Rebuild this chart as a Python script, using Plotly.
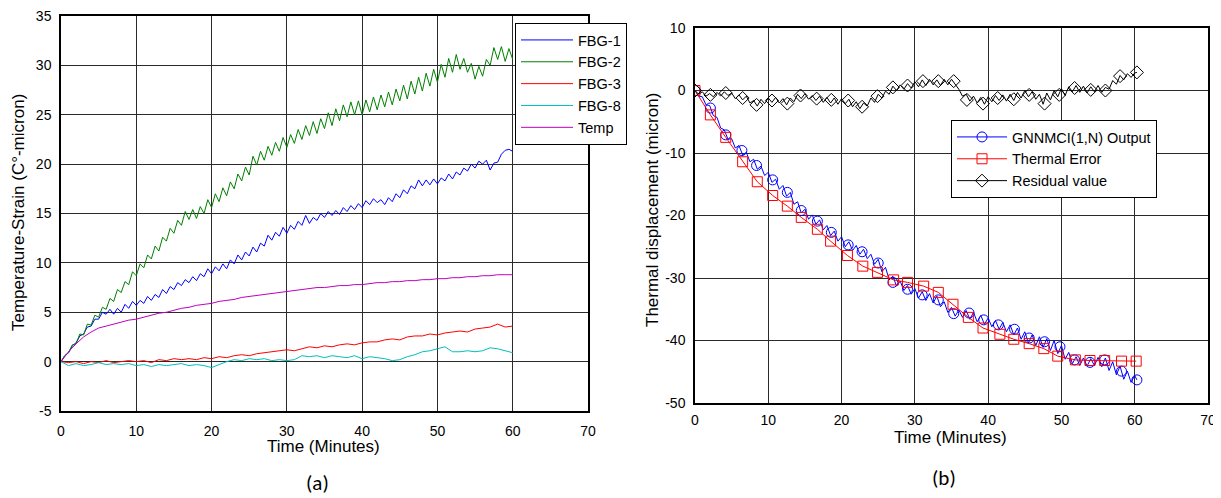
import plotly.graph_objects as go

# ---------------- Data: panel (a) ----------------
# FBG-1 and FBG-2 sampled every 0.5 min from 0 to 60 min
fbg1 = [0, 0.6, 0.9, 1.6, 1.9, 2.6, 2.8, 3.5, 3.6, 4.3,
        4.3, 5.0, 4.8, 5.3, 4.8, 5.4, 5.0, 5.8, 5.4, 6.1,
        5.7, 6.2, 5.9, 6.6, 6.2, 6.8, 6.5, 7.3, 6.9, 7.6,
        7.3, 8.0, 7.7, 8.3, 8.0, 8.6, 8.2, 8.9, 8.6, 9.4,
        8.9, 9.6, 9.2, 9.9, 9.4, 10.3, 9.9, 10.8, 10.3, 11.1,
        10.7, 11.6, 11.1, 12.0, 11.7, 12.8, 12.3, 13.1, 12.7, 13.6,
        13.0, 13.8, 13.4, 14.2, 13.8, 14.8, 14.0, 14.6, 14.3, 15.0,
        14.6, 15.2, 14.8, 15.3, 14.9, 15.6, 15.2, 15.8, 15.4, 16.0,
        15.6, 16.3, 15.9, 16.5, 16.1, 16.4, 15.9, 16.6, 16.2, 17.0,
        16.6, 17.4, 17.0, 17.8, 17.5, 18.4, 17.8, 18.4, 17.9, 18.5,
        18.0, 18.6, 18.3, 19.0, 18.5, 19.2, 18.9, 19.6, 19.3, 20.0,
        19.6, 20.3, 20.0, 20.4, 19.4, 20.1, 20.2, 21.0, 21.4, 21.5,
        21.3]
fbg2 = [0, 0.6, 0.9, 1.7, 1.8, 2.8, 2.7, 3.8, 3.7, 4.7,
        4.5, 5.5, 5.3, 6.4, 6.1, 7.3, 7.0, 8.1, 7.8, 9.1,
        8.7, 9.9, 9.5, 10.8, 10.4, 11.7, 11.2, 12.6, 12.2, 13.5,
        13.0, 14.3, 13.8, 15.2, 14.4, 15.4, 14.5, 15.7, 15.0, 16.4,
        15.6, 17.0, 16.2, 17.6, 16.8, 18.2, 17.5, 19.0, 18.3, 19.7,
        18.9, 20.8, 19.9, 21.3, 20.4, 21.8, 20.9, 22.2, 21.3, 22.7,
        21.7, 23.0, 22.1, 23.5, 22.5, 23.9, 22.9, 24.3, 23.1, 24.6,
        23.6, 25.2, 23.9, 25.6, 24.4, 26.0, 24.8, 26.3, 25.0, 26.4,
        25.0, 26.5, 25.3, 26.8, 25.5, 27.0, 25.8, 27.3, 26.0, 27.6,
        26.4, 28.0, 26.6, 28.4, 27.1, 28.8, 27.4, 29.2, 27.9, 29.6,
        28.3, 30.1, 28.8, 30.7, 29.3, 31.1, 29.6, 30.7, 29.3, 30.2,
        28.6, 29.9, 28.9, 30.6, 30.0, 31.8, 30.6, 31.9, 30.4, 31.7,
        30.6]
t_half = [i * 0.5 for i in range(len(fbg2))]

# FBG-3, FBG-8 and Temp sampled every minute from 0 to 60 min
fbg3 = [0, -0.1, 0.0, -0.2, 0.0, -0.1, 0.1, -0.1, 0.0, 0.1,
        0.0, 0.1, -0.1, 0.2, 0.1, 0.3, 0.2, 0.3, 0.2, 0.4,
        0.3, 0.5, 0.4, 0.6, 0.7, 0.6, 0.8, 0.9, 1.0, 1.1,
        1.2, 1.1, 1.3, 1.5, 1.4, 1.6, 1.5, 1.7, 1.8, 1.7,
        1.9, 2.0, 2.0, 2.2, 2.3, 2.2, 2.5, 2.6, 2.6, 2.8,
        2.7, 2.9, 3.0, 3.1, 3.0, 3.3, 3.4, 3.5, 3.8, 3.5,
        3.6]
fbg8 = [0, -0.4, -0.2, -0.4, -0.3, -0.1, -0.3, -0.2, -0.3, -0.2,
        -0.4, -0.3, -0.5, -0.3, -0.4, -0.3, -0.2, -0.4, -0.3, -0.4,
        -0.6, -0.3, 0.0, 0.2, 0.1, 0.3, 0.2, 0.3, 0.1, 0.2,
        0.1, 0.2, 0.6, 0.5, 0.6, 0.4, 0.6, 0.5, 0.4, 0.6,
        0.3, 0.5, 0.4, 0.3, 0.1, 0.2, 0.5, 0.7, 1.0, 1.1,
        1.3, 1.5, 1.0, 1.0, 1.1, 1.0, 1.1, 1.4, 1.3, 1.1,
        0.9]
temp = [0, 1.0, 1.8, 2.5, 3.0, 3.4, 3.6, 3.8, 4.0, 4.2,
        4.3, 4.5, 4.7, 4.9, 5.0, 5.2, 5.4, 5.5, 5.7, 5.8,
        5.9, 6.1, 6.2, 6.3, 6.5, 6.6, 6.7, 6.8, 6.9, 7.0,
        7.1, 7.2, 7.3, 7.4, 7.5, 7.5, 7.6, 7.7, 7.7, 7.8,
        7.8, 7.9, 8.0, 8.0, 8.1, 8.1, 8.2, 8.2, 8.3, 8.3,
        8.4, 8.4, 8.5, 8.5, 8.6, 8.6, 8.7, 8.7, 8.8, 8.8,
        8.8]
t_min = list(range(len(temp)))

# ---------------- Data: panel (b) ----------------
t_dense = [i * 0.5 for i in range(121)] + [60.3]
gnn_dense = [0, -0.9, -1.0, -2.3, -2.4, -4.0, -4.3, -6.0, -6.3, -7.8,
             -7.7, -9.2, -8.8, -10.3, -9.9, -11.4, -11.0, -12.6, -12.1, -13.6,
             -13.1, -14.7, -14.2, -15.8, -15.2, -16.9, -16.3, -18.2, -17.8, -19.6,
             -19.0, -20.6, -19.9, -21.4, -20.7, -22.3, -21.6, -23.2, -22.5, -24.1,
             -23.4, -25.0, -24.2, -25.6, -24.8, -26.2, -25.4, -26.9, -26.2, -27.8,
             -27.0, -29.0, -28.3, -30.3, -29.7, -31.3, -30.5, -32.0, -31.2, -32.6,
             -31.7, -33.2, -32.2, -33.6, -32.5, -34.0, -32.9, -34.6, -33.8, -35.5,
             -34.7, -36.1, -35.1, -36.3, -35.2, -36.6, -35.5, -37.0, -36.0, -37.4,
             -36.4, -37.8, -36.8, -38.2, -37.1, -38.6, -37.5, -39.1, -38.0, -39.8,
             -38.6, -40.4, -39.1, -40.8, -39.4, -41.1, -39.7, -41.6, -40.0, -42.1,
             -40.8, -43.0, -41.9, -43.7, -42.6, -44.0, -42.8, -44.1, -42.9, -44.0,
             -42.7, -44.2, -42.8, -44.8, -43.4, -45.5, -44.1, -46.2, -44.9, -46.7,
             -45.6, -46.3]
resid_dense = [0, -0.6, -0.2, -0.9, -0.5, -1.0, -0.3, -0.9, -0.2, -0.8,
               -0.4, -1.3, -0.7, -1.5, -0.9, -2.0, -1.6, -2.5, -1.4, -2.1,
               -1.2, -1.9, -1.1, -2.0, -1.3, -2.3, -1.2, -1.8, -0.6, -1.3,
               -0.5, -1.4, -0.8, -1.6, -0.9, -1.9, -1.1, -2.0, -1.2, -2.2,
               -1.3, -2.1, -1.4, -2.6, -1.8, -2.9, -2.0, -2.5, -1.2, -1.9,
               -0.6, -1.2, -0.1, -0.6, 0.7, 0.0, 0.9, 0.2, 1.1, 0.4,
               1.4, 0.6, 1.7, 0.8, 1.8, 0.9, 1.7, 0.8, 1.8, 0.9,
               1.8, 1.0, 0.2, -0.9, -0.6, -1.7, -0.9, -2.0, -1.1, -2.2,
               -1.0, -1.8, -0.8, -1.6, -0.7, -1.7, -0.6, -1.6, -0.3, -1.2,
               0.0, -1.0, -0.2, -1.4, -0.6, -2.2, -0.4, -1.5, 0.0, -1.0,
               0.3, -0.8, 0.6, -0.2, 0.8, -0.3, 0.7, -0.4, 0.6, -0.2,
               0.8, -0.3, 0.5, 0.2, 1.6, 1.0, 2.4, 1.7, 2.7, 2.1,
               2.8, 2.9]

circ_t = [0, 2.1, 4.2, 6.4, 8.4, 10.6, 12.6, 14.5, 16.7, 18.6,
          20.9, 22.8, 25.0, 27.0, 29.0, 31.0, 33.2, 35.3, 37.4, 39.4,
          41.4, 43.6, 45.6, 47.7, 49.8, 51.8, 53.9, 55.9, 58.2, 60.3]
circ_v = [0, -2.8, -7.1, -9.6, -12.0, -14.3, -16.3, -19.2, -20.9, -22.7,
          -24.7, -25.8, -27.6, -30.7, -31.8, -32.7, -33.5, -35.7, -35.6, -36.7,
          -37.5, -38.2, -39.6, -40.2, -41.0, -43.1, -43.5, -43.1, -44.9, -46.3]
sq_t = [0, 2.1, 4.2, 6.5, 8.5, 10.6, 12.6, 14.5, 16.7, 18.5,
        20.8, 22.9, 24.9, 27.1, 29.0, 31.2, 33.2, 35.2, 37.3, 39.3,
        41.6, 43.5, 45.6, 47.6, 49.5, 51.9, 53.9, 55.9, 58.2, 60.2]
sq_v = [0, -3.9, -7.5, -11.4, -14.6, -16.8, -18.5, -20.3, -22.2, -24.1,
        -26.4, -28.1, -29.1, -30.3, -30.7, -31.3, -32.3, -34.2, -36.3, -38.0,
        -39.0, -39.8, -40.5, -41.3, -42.5, -43.1, -43.2, -43.2, -43.3, -43.3]
dia_t = [0, 2.1, 4.2, 6.5, 8.4, 10.5, 12.6, 14.4, 16.6, 18.6,
         20.9, 22.8, 24.9, 27.0, 29.0, 31.1, 33.2, 35.3, 37.1, 39.3,
         41.3, 43.5, 45.6, 47.7, 49.7, 51.8, 54.0, 56.0, 58.0, 60.3]
dia_v = [0, -0.7, -0.4, -1.2, -2.3, -1.6, -2.1, -0.8, -1.3, -1.5,
         -1.6, -2.6, -0.9, 0.5, 0.8, 1.5, 1.5, 1.5, -1.5, -2.1,
         -1.2, -1.4, -0.7, -2.1, -0.7, 0.4, 0.1, 0.0, 2.3, 2.9]

x_ticks = [0, 10, 20, 30, 40, 50, 60, 70]
ya_ticks = [-5, 0, 5, 10, 15, 20, 25, 30, 35]
yb_ticks = [-50, -40, -30, -20, -10, 0, 10]

# ---------------- Figure ----------------
# The page body has an 8px margin: map window pixels to paper fractions.
OFF = 8
W, H = 1221 - OFF, 498 - OFF
def fx(px):
    return (px - OFF) / W
def fy(py):
    return 1 - (py - OFF) / H

FONT = "Arial, Liberation Sans, sans-serif"

fig = go.Figure()

# panel (a)
for name, xs, ys, col in [("FBG-1", t_half, fbg1, "#0000ff"),
                          ("FBG-2", t_half, fbg2, "#008000"),
                          ("FBG-3", t_min, fbg3, "#ff0000"),
                          ("FBG-8", t_min, fbg8, "#00bfbf"),
                          ("Temp", t_min, temp, "#bf00bf")]:
    fig.add_trace(go.Scatter(x=xs, y=ys, mode="lines", name=name,
                             line=dict(color=col, width=1),
                             xaxis="x", yaxis="y", legend="legend"))

# panel (b)
def mk(sym, col):
    return dict(symbol=sym, size=10, color=col, line=dict(width=1, color=col))

fig.add_trace(go.Scatter(x=t_dense, y=gnn_dense, mode="lines", showlegend=False,
                         line=dict(color="#0000ff", width=1), xaxis="x2", yaxis="y2"))
fig.add_trace(go.Scatter(x=circ_t, y=circ_v, mode="markers", showlegend=False,
                         marker=mk("circle-open", "#0000ff"), xaxis="x2", yaxis="y2"))
fig.add_trace(go.Scatter(x=[None], y=[None], mode="lines+markers", name="GNNMCI(1,N) Output",
                         line=dict(color="#0000ff", width=1), marker=mk("circle-open", "#0000ff"),
                         xaxis="x2", yaxis="y2", legend="legend2"))
fig.add_trace(go.Scatter(x=sq_t, y=sq_v, mode="lines+markers", name="Thermal Error",
                         line=dict(color="#ff0000", width=1), marker=mk("square-open", "#ff0000"),
                         xaxis="x2", yaxis="y2", legend="legend2"))
fig.add_trace(go.Scatter(x=t_dense, y=resid_dense, mode="lines", showlegend=False,
                         line=dict(color="black", width=1), xaxis="x2", yaxis="y2"))
fig.add_trace(go.Scatter(x=dia_t, y=dia_v, mode="markers", showlegend=False,
                         marker=mk("diamond-open", "black"), xaxis="x2", yaxis="y2"))
fig.add_trace(go.Scatter(x=[None], y=[None], mode="lines+markers", name="Residual value",
                         line=dict(color="black", width=1), marker=mk("diamond-open", "black"),
                         xaxis="x2", yaxis="y2", legend="legend2"))

axis_common = dict(showline=True, mirror=True, linecolor="black", linewidth=1.5,
                   showgrid=True, gridcolor="#2a2a2a", gridwidth=1, zeroline=False,
                   ticks="", automargin=False, ticklabeloverflow="allow",
                   tickfont=dict(family=FONT, size=14, color="black"))

def labels(vals):
    return [str(v) for v in vals]

fig.update_layout(
    width=W, height=H, autosize=False,
    margin=dict(l=0, r=0, t=0, b=0),
    paper_bgcolor="white", plot_bgcolor="white",
    xaxis=dict(domain=[fx(61), fx(588)], range=[0, 70], tickvals=x_ticks,
               ticktext=labels(x_ticks), anchor="y", ticklabelstandoff=6, **axis_common),
    yaxis=dict(domain=[fy(411), fy(16)], range=[-5, 35], tickvals=ya_ticks,
               ticktext=labels(ya_ticks), anchor="x", ticklabelstandoff=5, **axis_common),
    xaxis2=dict(domain=[fx(695), fx(1208)], range=[0, 70], tickvals=x_ticks,
                ticktext=labels(x_ticks), anchor="y2", ticklabelstandoff=3, **axis_common),
    yaxis2=dict(domain=[fy(403), fy(28)], range=[-50, 10], tickvals=yb_ticks,
                ticktext=labels(yb_ticks), anchor="x2", ticklabelstandoff=5, **axis_common),
    legend=dict(x=fx(515), y=fy(23), xanchor="left", yanchor="top",
                bgcolor="white", bordercolor="black", borderwidth=1, itemwidth=52,
                font=dict(family=FONT, size=14.5, color="black")),
    legend2=dict(x=fx(951), y=fy(120), xanchor="left", yanchor="top",
                 bgcolor="white", bordercolor="black", borderwidth=1, itemwidth=50,
                 font=dict(family=FONT, size=14.5, color="black")),
)

title_font = dict(family=FONT, size=17, color="black")
annots = [
    dict(text="Temperature-Strain (C°-micron)", x=fx(18), y=fy(213), textangle=-90),
    dict(text="Thermal displacement (micron)", x=fx(652), y=fy(210), textangle=-90),
    dict(text="Time (Minutes)", x=fx(323), y=fy(446)),
    dict(text="Time (Minutes)", x=fx(950), y=fy(437)),
]
for a in annots:
    fig.add_annotation(xref="paper", yref="paper", showarrow=False,
                       xanchor="center", yanchor="middle", font=title_font, **a)
for txt, xx, yy in [("(a)", 317, 483), ("(b)", 944, 478)]:
    fig.add_annotation(text=txt, xref="paper", yref="paper", x=fx(xx), y=fy(yy),
                       showarrow=False, xanchor="center", yanchor="middle",
                       font=dict(family="Carlito, Open Sans, sans-serif", size=21, color="black"))

fig.write_html("out.html")
